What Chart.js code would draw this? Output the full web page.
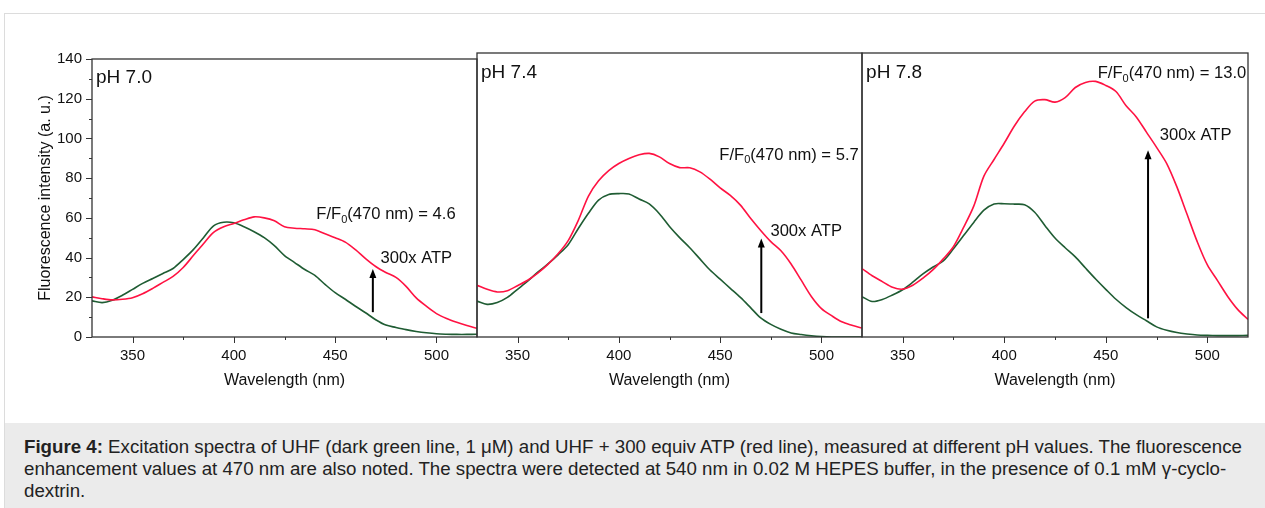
<!DOCTYPE html>
<html>
<head>
<meta charset="utf-8">
<script src="https://cdn.jsdelivr.net/npm/chart.js@4.4.1/dist/chart.umd.min.js"></script>
<style>
    body { margin: 0; background: #fff; font-family: 'Liberation Sans', Arial, sans-serif; }
    #page { position: relative; width: 1265px; height: 508px; overflow: hidden; }
    .frame { position: absolute; left: 4px; top: 13px; right: 0; bottom: 0; border-left: 1px solid #dcdcdc; border-top: 1px solid #dcdcdc; }
    canvas { position: absolute; }
    .caption { position: absolute; left: 5px; top: 423px; width: 1260px; height: 85px; background: #ebebeb;
        box-sizing: border-box; padding: 13px 0 0 19px; font-size: 18.7px; line-height: 22px; color: #222; white-space: nowrap; }
</style>
</head>
<body>
<div id="page">
    <div class="frame"></div>
    <canvas id="ph70" width="490" height="360" style="left:0px;top:40px"></canvas>
    <canvas id="ph74" width="400" height="360" style="left:470px;top:40px"></canvas>
    <canvas id="ph78" width="410" height="360" style="left:855px;top:40px"></canvas>
    <div class="caption"><b>Figure 4:</b> Excitation spectra of UHF (dark green line, 1 μM) and UHF + 300 equiv ATP (red line), measured at different pH values. The fluorescence<br>enhancement values at 470 nm are also noted. The spectra were detected at 540 nm in 0.02 M HEPES buffer, in the presence of 0.1 mM γ-cyclo-<br>dextrin.</div>
</div>
<script>
// wavelength grid (nm)
const wavelengths = [330, 335, 340, 345, 350, 355, 360, 365, 370, 375, 380, 385, 390, 395, 400, 405, 410, 415, 420, 425,
    430, 435, 440, 445, 450, 455, 460, 465, 470, 475, 480, 485, 490, 495, 500, 505, 510, 515, 520];

// pH 7.0
const uhf70 = [18.2, 17.3, 18.5, 21, 24, 27, 29.5, 32, 34.5, 39, 44, 50, 56, 57.8, 57.5, 55.5, 53, 50, 46, 41,
    37.5, 34, 31, 26.5, 22.3, 19, 15.5, 12.2, 8.7, 6, 4.8, 3.7, 2.8, 2.1, 1.6, 1.4, 1.3, 1.3, 1.4];
const atp70 = [20.2, 19.3, 18.7, 19, 19.8, 21.8, 24.5, 27.5, 30.5, 35, 41, 47, 52.7, 55.5, 57.2, 59, 60.5, 60, 58.5, 55.5,
    54.8, 54.5, 54, 52, 50, 47.8, 44, 39.5, 35.5, 32.5, 30, 25.5, 19.7, 15.5, 11.8, 9.3, 7.4, 5.8, 4.4];

// pH 7.4
const uhf74 = [17.7, 16.1, 17, 19.5, 23.5, 27.5, 32, 36, 40.5, 45.5, 53.5, 61, 67.5, 70.3, 70.7, 70.5, 68, 65.6, 60.8, 54.5,
    49, 44, 38.5, 33, 28.5, 24, 19.5, 14.5, 9.4, 6.2, 3.8, 2, 1.2, 0.6, 0.2, 0, 0, 0, 0];
const atp74 = [25.5, 23.5, 22.2, 22.8, 25.3, 28, 31.5, 35.8, 41, 47.5, 57.5, 69.5, 77, 82, 85.5, 88, 89.8, 90.5, 88.8, 85.5,
    83.5, 83.4, 81.4, 77.8, 73.5, 69.8, 65, 58.5, 52.5, 47, 42.5, 36, 28, 20, 14, 10.5, 7.5, 5.8, 4.4];

// pH 7.8
const uhf78 = [19.9, 17.5, 18.5, 20.7, 23.3, 27, 31.1, 34.5, 37.5, 43.5, 50, 56.5, 62.5, 65.6, 65.7, 65.5, 65.2, 61.5, 55, 48.8,
    44, 39.5, 34, 28.6, 23.5, 18.6, 14.5, 11, 8, 5, 3.3, 2.2, 1.5, 1, 0.8, 0.7, 0.7, 0.7, 0.8];
const atp78 = [33.7, 30.2, 27.3, 24.5, 23.6, 25.5, 29, 33.2, 38.5, 44.5, 54, 64.5, 79.3, 87.5, 95.5, 104, 111, 116.3, 117, 115.8,
    118, 123, 125.5, 126, 124, 121, 114, 108.5, 101, 93.5, 85.5, 74, 60.5, 47, 35.5, 27.8, 20, 13.5, 8.7];

const xTickLabels = [350, 400, 450, 500];
const yTickLabels = [0, 20, 40, 60, 80, 100, 120, 140];

const RED = '#ff1242';
const GREEN = '#1f5c33';
const FONT = "'Liberation Sans', Arial, sans-serif";

function toPoints(values) {
    return wavelengths.map((w, i) => ({x: w, y: values[i]}));
}

// frame, minor/major ticks and text annotations
const panelDecor = {
    id: 'panelDecor',
    afterDraw(chart, args, opts) {
        const ctx = chart.ctx;
        const area = chart.chartArea;
        const xs = chart.scales.x, ys = chart.scales.y;
        ctx.save();
        ctx.strokeStyle = '#333';
        ctx.lineWidth = 1.3;
        ctx.strokeRect(area.left, area.top, area.right - area.left, area.bottom - area.top);

        ctx.lineWidth = 1;
        ctx.beginPath();
        for (let v = 350; v <= 500; v += 25) {
            let px = Math.round(xs.getPixelForValue(v)) + 0.5;
            ctx.moveTo(px, area.bottom);
            ctx.lineTo(px, area.bottom + (v % 50 === 0 ? 6 : 3));
        }
        if (opts.yTicks) {
            for (let v = 0; v <= 140; v += 10) {
                let py = Math.round(ys.getPixelForValue(v)) + 0.5;
                ctx.moveTo(area.left, py);
                ctx.lineTo(area.left - (v % 20 === 0 ? 6 : 3), py);
            }
        }
        ctx.stroke();

        ctx.fillStyle = '#111';
        ctx.textBaseline = 'middle';
        ctx.font = '19px ' + FONT;
        ctx.fillText(opts.label, xs.getPixelForValue(332), ys.getPixelForValue(130.5));

        // F/F0 ratio, with subscript 0
        ctx.font = '16.6px ' + FONT;
        let rx = xs.getPixelForValue(opts.ratio.x), ry = ys.getPixelForValue(opts.ratio.y);
        ctx.fillText('F/F', rx, ry);
        rx += ctx.measureText('F/F').width;
        ctx.font = '11px ' + FONT;
        ctx.fillText('0', rx, ry + 5);
        rx += ctx.measureText('0').width;
        ctx.font = '16.6px ' + FONT;
        ctx.fillText('(470 nm) = ' + opts.ratio.text, rx, ry);

        ctx.fillText('300x ATP', xs.getPixelForValue(opts.atp.x), ys.getPixelForValue(opts.atp.y));

        // arrow
        let ax = xs.getPixelForValue(opts.arrow.x);
        let ay0 = ys.getPixelForValue(opts.arrow.y0), ay1 = ys.getPixelForValue(opts.arrow.y1);
        ctx.strokeStyle = '#000';
        ctx.lineWidth = 2;
        ctx.beginPath();
        ctx.moveTo(ax, ay0);
        ctx.lineTo(ax, ay1 + 6);
        ctx.stroke();
        ctx.fillStyle = '#000';
        ctx.beginPath();
        ctx.moveTo(ax, ay1);
        ctx.lineTo(ax - 3.5, ay1 + 9);
        ctx.lineTo(ax + 3.5, ay1 + 9);
        ctx.closePath();
        ctx.fill();
        ctx.restore();
    }
};

function makePanel(canvasId, uhf, atp, decor, first, padding) {
    const ctx = document.getElementById(canvasId).getContext('2d');
    return new Chart(ctx, {
        type: 'line',
        data: {
            datasets: [{
                label: 'UHF + 300 equiv ATP',
                data: toPoints(atp),
                borderColor: RED,
                borderWidth: 1.6,
                pointRadius: 0,
                tension: 0.3
            }, {
                label: 'UHF',
                data: toPoints(uhf),
                borderColor: GREEN,
                borderWidth: 1.6,
                pointRadius: 0,
                tension: 0.3
            }]
        },
        options: {
            responsive: false,
            animation: false,
            devicePixelRatio: 1,
            layout: {padding: padding},
            plugins: {
                legend: {display: false},
                tooltip: {enabled: false},
                panelDecor: decor
            },
            scales: {
                x: {
                    type: 'linear',
                    min: 330,
                    max: 520,
                    grid: {display: false, drawTicks: false},
                    border: {display: false},
                    afterBuildTicks: (scale) => { scale.ticks = xTickLabels.map(v => ({value: v})); },
                    afterFit: (scale) => { scale.height = 63; },
                    ticks: {
                        color: '#111',
                        padding: 10,
                        maxRotation: 0,
                        font: {family: FONT, size: 15}
                    },
                    title: {
                        display: true,
                        text: 'Wavelength (nm)',
                        color: '#111',
                        font: {family: FONT, size: 16},
                        padding: {top: 0, bottom: 10}
                    }
                },
                y: {
                    display: first,
                    min: 0,
                    max: 140,
                    grid: {display: false, drawTicks: false},
                    border: {display: false},
                    afterBuildTicks: (scale) => { scale.ticks = yTickLabels.map(v => ({value: v})); },
                    afterFit: (scale) => { scale.width = first ? 92 : 0; },
                    ticks: {
                        color: '#111',
                        padding: 10,
                        font: {family: FONT, size: 15}
                    },
                    title: {
                        display: true,
                        text: 'Fluorescence intensity (a. u.)',
                        color: '#111',
                        font: {family: FONT, size: 16},
                        padding: {top: 36, bottom: 0}
                    }
                }
            }
        },
        plugins: [panelDecor]
    });
}

makePanel('ph70', uhf70, atp70, {
    label: 'pH 7.0', yTicks: true,
    ratio: {x: 440.7, y: 61.7, text: '4.6'},
    atp: {x: 472.4, y: 39.6},
    arrow: {x: 468.6, y0: 12.5, y1: 34.3}
}, true, {top: 13, right: 13, left: 0, bottom: 0});

makePanel('ph74', uhf74, atp74, {
    label: 'pH 7.4', yTicks: false,
    ratio: {x: 449.6, y: 89.7, text: '5.7'},
    atp: {x: 474.8, y: 51.9},
    arrow: {x: 470.3, y0: 11.8, y1: 48.6}
}, false, {top: 13, right: 8, left: 7, bottom: 0});

makePanel('ph78', uhf78, atp78, {
    label: 'pH 7.8', yTicks: false,
    ratio: {x: 446, y: 129.9, text: '13.0'},
    atp: {x: 476.6, y: 99.2},
    arrow: {x: 470.8, y0: 9.2, y1: 92.1}
}, false, {top: 13, right: 17, left: 7, bottom: 0});
</script>
</body>
</html>
